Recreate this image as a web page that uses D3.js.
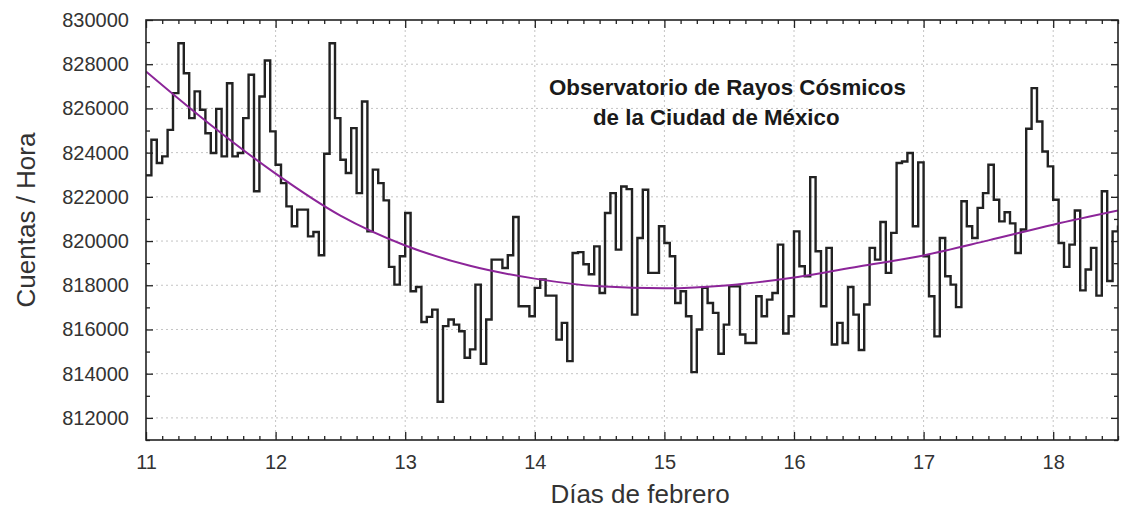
<!DOCTYPE html>
<html>
<head>
<meta charset="utf-8">
<script src="https://cdn.jsdelivr.net/npm/d3@7"></script>
<style>
  html, body { margin: 0; padding: 0; background: #fff; }
  svg { display: block; font-family: "Liberation Sans", Arial, sans-serif; }
</style>
</head>
<body>
<svg id="chart" width="1121" height="508"></svg>
<script>
// Hourly counts, starting 11 Feb 00:00 (one value per hour)
const cuentas = [
  822970, 824580, 823530, 823830, 825030, 826690, 828950, 827590, 825560, 826770,
  825940, 824880, 823980, 825980, 823830, 827140, 823830, 823980, 825560, 827520,
  822250, 826540, 828170, 824960, 823450, 822620, 821570, 820670, 821420, 821420,
  820210, 820410, 819360, 823950, 828950, 825560, 823680, 823080, 825110, 822170,
  826310, 820440, 823230, 822620, 821840, 818830, 818030, 819310, 821270, 817730,
  817920, 816340, 816570, 816900, 812730, 816150, 816450, 816220, 815920, 814720,
  815100, 818030, 814450, 816450, 819160, 819160, 818780, 819360, 821090, 817050,
  817050, 816600, 817880, 818260, 817530, 817530, 815540, 816300, 814570, 819460,
  819500, 818950, 818500, 819760, 817650, 821270, 822170, 819610, 822470, 822350,
  816670, 820140, 822320, 818560, 818560, 820670, 819910, 819310, 817200, 817730,
  816600, 814070, 816000, 817880, 817200, 816750, 814900, 816220, 817950, 817950,
  815770, 815390, 815390, 817500, 816600, 817350, 817650, 819840, 815820, 816600,
  820440, 818860, 818410, 822890, 819540, 817050, 819690, 815320, 816300, 815390,
  817920, 816670, 815070, 817130, 819690, 819160, 820860, 818560, 820370, 823530,
  823600, 823980, 820670, 823560, 819310, 817500, 815690, 820140, 818410, 818030,
  817010, 821800, 820670, 820140, 821500, 822170, 823450, 821870, 820890, 821300,
  820800, 819460, 820520, 825080, 826920, 825410, 824050, 823380, 821870, 819910,
  818830, 819840, 821380, 817770, 818710, 819690, 817530, 822250, 818190, 820440,
  820700
];

// Smooth trend curve: day of February and counts per hour
const ajusteDias = [11.0, 11.5, 12.0, 12.5, 13.0, 13.5, 14.0, 14.5, 15.0, 15.5, 16.0, 16.5, 17.0, 17.5, 18.0, 18.5];
const ajusteCuentas = [827670, 825250, 823050, 821150, 819800, 818880, 818300, 817950, 817860, 818000, 818350, 818850, 819350, 820030, 820740, 821380];

const diaInicio = 11;
const xDomain = [11, 18.5];
const yDomain = [811000, 830000];
const xTicks = [11, 12, 13, 14, 15, 16, 17, 18];
const yTicks = [812000, 814000, 816000, 818000, 820000, 822000, 824000, 826000, 828000, 830000];

const tituloLineas = ["Observatorio de Rayos Cósmicos", "de la Ciudad de México"];
const etiquetaX = "Días de febrero";
const etiquetaY = "Cuentas / Hora";

const svg = d3.select("#chart");
const L = 146, R = 1118, T = 20, B = 440;

const x = d3.scaleLinear().domain(xDomain).range([L, R]);
const y = d3.scaleLinear().domain(yDomain).range([B, T]);

// minor tick positions (every 3 h on x, every 1000 on y)
const xMinor = d3.range(xDomain[0] * 8, xDomain[1] * 8 + 1).map(v => v / 8).filter(v => !xTicks.includes(v));
const yMinor = d3.range(yDomain[0], yDomain[1] + 1, 1000).filter(v => !yTicks.includes(v));

// grid
const grid = svg.append("g").attr("stroke", "#c4c4c4").attr("stroke-width", 1).attr("stroke-dasharray", "2,3");
grid.selectAll("line.gx").data(xTicks.filter(d => d > xDomain[0])).join("line")
  .attr("x1", d => x(d)).attr("x2", d => x(d)).attr("y1", T).attr("y2", B);
grid.selectAll("line.gy").data(yTicks.filter(d => d < yDomain[1])).join("line")
  .attr("x1", L).attr("x2", R).attr("y1", d => y(d)).attr("y2", d => y(d));

// clip for the data
svg.append("defs").append("clipPath").attr("id", "plotClip")
  .append("rect").attr("x", L).attr("y", T).attr("width", R - L).attr("height", B - T);

// hourly step line
const puntos = cuentas.map((v, i) => [diaInicio + i / 24, v]);
const escalon = d3.line().x(d => x(d[0])).y(d => y(d[1])).curve(d3.curveStepAfter);
svg.append("path")
  .datum(puntos)
  .attr("clip-path", "url(#plotClip)")
  .attr("fill", "none")
  .attr("stroke", "#222")
  .attr("stroke-width", 2.4)
  .attr("d", escalon);

// trend curve
const ajuste = ajusteDias.map((d, i) => [d, ajusteCuentas[i]]);
svg.append("path")
  .datum(ajuste)
  .attr("clip-path", "url(#plotClip)")
  .attr("fill", "none")
  .attr("stroke", "#8c2599")
  .attr("stroke-width", 2)
  .attr("d", d3.line().x(d => x(d[0])).y(d => y(d[1])).curve(d3.curveMonotoneX));

// axes (ticks pointing inward on all four sides)
function styleAxis(g) {
  g.select(".domain").remove();
  g.selectAll(".tick line").attr("stroke", "#222").attr("stroke-width", 1.3);
  g.selectAll(".tick text").attr("fill", "#333").attr("font-size", 20);
}
const fmt = d3.format("d");

svg.append("g").attr("transform", `translate(${L},0)`)
  .call(d3.axisLeft(y).tickValues(yTicks).tickSize(-7).tickPadding(17).tickFormat(fmt))
  .call(styleAxis);
svg.append("g").attr("transform", `translate(${L},0)`)
  .call(d3.axisLeft(y).tickValues(yMinor).tickSize(-4).tickFormat(""))
  .call(styleAxis);
svg.append("g").attr("transform", `translate(${R},0)`)
  .call(d3.axisRight(y).tickValues(yTicks).tickSize(-7).tickFormat(""))
  .call(styleAxis);
svg.append("g").attr("transform", `translate(${R},0)`)
  .call(d3.axisRight(y).tickValues(yMinor).tickSize(-4).tickFormat(""))
  .call(styleAxis);

svg.append("g").attr("transform", `translate(0,${B})`)
  .call(d3.axisBottom(x).tickValues(xTicks).tickSize(-8).tickPadding(15).tickFormat(fmt))
  .call(styleAxis);
svg.append("g").attr("transform", `translate(0,${B})`)
  .call(d3.axisBottom(x).tickValues(xMinor).tickSize(-4).tickFormat(""))
  .call(styleAxis);
svg.append("g").attr("transform", `translate(0,${T})`)
  .call(d3.axisTop(x).tickValues(xTicks).tickSize(-8).tickFormat(""))
  .call(styleAxis);
svg.append("g").attr("transform", `translate(0,${T})`)
  .call(d3.axisTop(x).tickValues(xMinor).tickSize(-4).tickFormat(""))
  .call(styleAxis);

// frame
svg.append("rect").attr("x", L).attr("y", T).attr("width", R - L).attr("height", B - T)
  .attr("fill", "none").attr("stroke", "#222").attr("stroke-width", 1.6);

// axis titles
svg.append("text").attr("x", 640).attr("y", 503).attr("text-anchor", "middle")
  .attr("font-size", 26).attr("fill", "#333").text(etiquetaX);
svg.append("text").attr("transform", "translate(35,220) rotate(-90)").attr("text-anchor", "middle")
  .attr("font-size", 26).attr("fill", "#333").text(etiquetaY);

// title block
const titulo = svg.append("text").attr("font-size", 22.3).attr("font-weight", "bold").attr("fill", "#1a1a1a");
titulo.append("tspan").attr("x", 549).attr("y", 95).text(tituloLineas[0]);
titulo.append("tspan").attr("x", 593).attr("y", 125).text(tituloLineas[1]);
</script>
</body>
</html>
